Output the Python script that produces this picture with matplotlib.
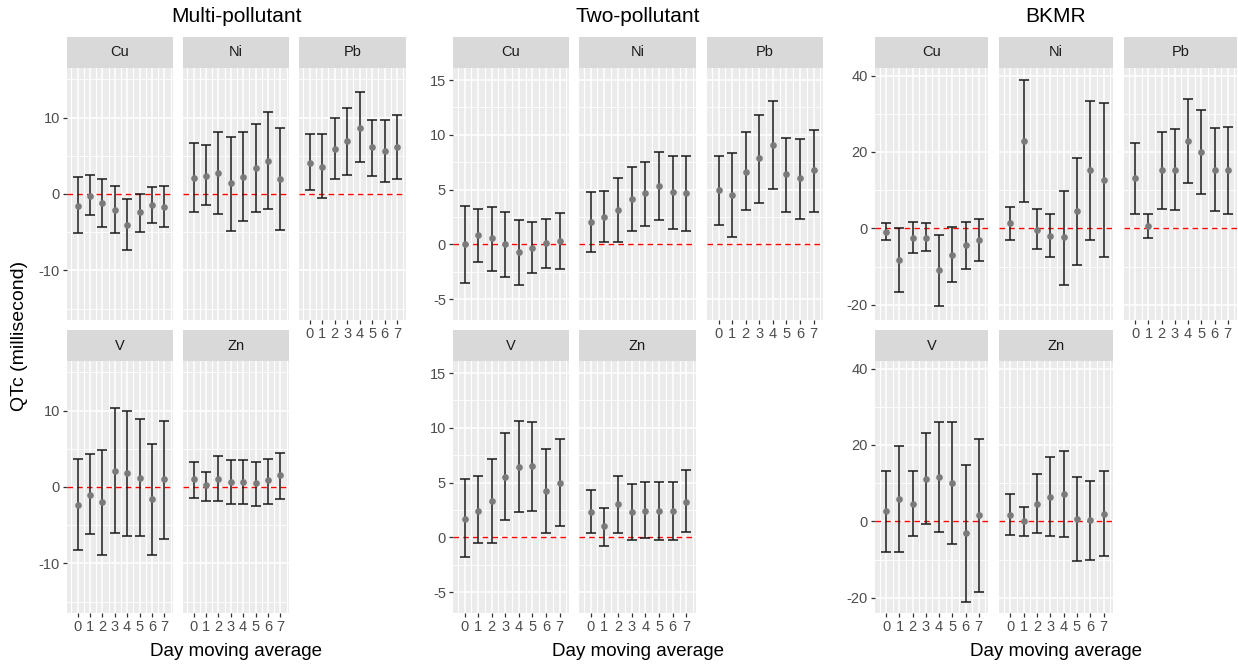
import matplotlib
matplotlib.use("Agg")
import matplotlib.pyplot as plt

plt.rcParams['font.family'] = ['Liberation Sans', 'DejaVu Sans']

days = [0, 1, 2, 3, 4, 5, 6, 7]
metals = ["Cu", "Ni", "Pb", "V", "Zn"]

# Multi-pollutant model: estimate, lower, upper (ms)
multi_est = {
    "Cu": [-1.6, -0.2, -1.2, -2.1, -4.0, -2.4, -1.5, -1.75],
    "Ni": [2.1, 2.4, 2.8, 1.4, 2.2, 3.4, 4.3, 1.9],
    "Pb": [4.1, 3.6, 5.9, 6.9, 8.6, 6.1, 5.6, 6.1],
    "V":  [-2.3, -1.1, -2.0, 2.1, 1.8, 1.2, -1.6, 1.1],
    "Zn": [1.0, 0.2, 1.1, 0.7, 0.7, 0.5, 0.9, 1.6],
}
multi_lo = {
    "Cu": [-5.1, -2.8, -4.3, -5.1, -7.3, -5.0, -3.8, -4.3],
    "Ni": [-2.4, -1.5, -2.6, -4.9, -3.6, -2.3, -1.9, -4.7],
    "Pb": [0.5, -0.5, 1.9, 2.5, 4.2, 2.3, 1.6, 1.9],
    "V":  [-8.2, -6.2, -8.9, -6.0, -6.4, -6.4, -8.9, -6.8],
    "Zn": [-1.4, -1.8, -1.8, -2.2, -2.2, -2.5, -2.2, -1.6],
}
multi_hi = {
    "Cu": [2.2, 2.5, 1.9, 1.05, -0.7, 0.0, 0.9, 1.05],
    "Ni": [6.7, 6.4, 8.1, 7.5, 8.1, 9.2, 10.7, 8.6],
    "Pb": [7.9, 7.8, 9.9, 11.2, 13.4, 9.7, 9.7, 10.4],
    "V":  [3.7, 4.3, 4.9, 10.3, 9.9, 8.9, 5.6, 8.7],
    "Zn": [3.3, 1.9, 4.1, 3.5, 3.5, 3.3, 3.7, 4.5],
}

# Two-pollutant model
two_est = {
    "Cu": [0.0, 0.85, 0.6, 0.0, -0.7, -0.35, 0.15, 0.35],
    "Ni": [2.0, 2.5, 3.1, 4.15, 4.65, 5.35, 4.75, 4.65],
    "Pb": [5.0, 4.5, 6.65, 7.9, 9.05, 6.4, 6.1, 6.75],
    "V":  [1.7, 2.45, 3.3, 5.55, 6.4, 6.55, 4.25, 4.95],
    "Zn": [2.3, 1.0, 3.05, 2.3, 2.45, 2.45, 2.45, 3.25],
}
two_lo = {
    "Cu": [-3.5, -1.65, -2.4, -3.0, -3.7, -2.6, -2.15, -2.25],
    "Ni": [-0.7, 0.25, 0.25, 1.2, 1.65, 2.25, 1.4, 1.2],
    "Pb": [1.8, 0.7, 3.1, 3.8, 5.1, 2.95, 2.35, 2.95],
    "V":  [-1.75, -0.55, -0.55, 1.6, 2.3, 2.45, 0.4, 1.0],
    "Zn": [0.4, -0.8, 0.4, -0.2, -0.1, -0.2, -0.2, 0.5],
}
two_hi = {
    "Cu": [3.5, 3.25, 3.45, 2.95, 2.25, 2.0, 2.35, 2.85],
    "Ni": [4.75, 4.9, 6.1, 7.1, 7.5, 8.45, 8.1, 8.1],
    "Pb": [8.1, 8.35, 10.25, 11.8, 13.05, 9.75, 9.65, 10.45],
    "V":  [5.3, 5.6, 7.2, 9.5, 10.65, 10.5, 8.1, 8.95],
    "Zn": [4.35, 2.65, 5.6, 4.85, 5.05, 5.05, 5.05, 6.15],
}

# BKMR
bkmr_est = {
    "Cu": [-1.0, -8.2, -2.4, -2.4, -11.0, -6.9, -4.45, -3.05],
    "Ni": [1.4, 22.8, -0.35, -2.1, -2.35, 4.45, 15.2, 12.75],
    "Pb": [13.1, 0.7, 15.2, 15.2, 22.8, 20.0, 15.2, 15.2],
    "V":  [2.7, 5.8, 4.45, 11.0, 11.7, 9.95, -3.15, 1.65],
    "Zn": [1.65, 0.0, 4.45, 6.5, 7.2, 0.7, 0.25, 2.0],
}
bkmr_lo = {
    "Cu": [-3.1, -16.6, -6.55, -5.85, -20.3, -14.15, -10.65, -8.55],
    "Ni": [-3.1, 6.9, -5.5, -7.6, -14.85, -9.6, -3.15, -7.6],
    "Pb": [3.85, -2.45, 5.15, 4.8, 11.8, 9.0, 4.45, 3.85],
    "V":  [-7.9, -7.9, -3.85, -0.7, -2.8, -5.95, -21.2, -18.4],
    "Zn": [-3.5, -3.85, -3.15, -3.85, -4.2, -10.4, -10.05, -9.0],
}
bkmr_hi = {
    "Cu": [1.4, 0.0, 1.75, 1.4, -1.75, 0.35, 1.75, 2.45],
    "Ni": [5.5, 38.95, 5.15, 3.85, 9.7, 18.35, 33.45, 32.75],
    "Pb": [22.35, 3.85, 25.25, 25.95, 33.8, 31.0, 26.2, 26.55],
    "V":  [13.1, 19.7, 13.1, 23.1, 25.9, 25.9, 14.8, 21.45],
    "Zn": [7.25, 3.75, 12.4, 16.9, 18.3, 11.7, 10.7, 13.1],
}

W, H = 1238, 665
fig = plt.figure(figsize=(W / 100, H / 100), dpi=100)


def px_axes(x0, y0, x1, y1):
    return fig.add_axes([x0 / W, 1 - y1 / H, (x1 - x0) / W, (y1 - y0) / H])


groups = [
    ("Multi-pollutant", multi_est, multi_lo, multi_hi,
     [(67, 173), (183, 289), (299, 406)], (-16.5, 16.5),
     [-10, 0, 10], [-15, -5, 5, 15]),
    ("Two-pollutant", two_est, two_lo, two_hi,
     [(453, 569), (579, 696), (707, 823)], (-6.9, 16.1),
     [-5, 0, 5, 10, 15], [-2.5, 2.5, 7.5, 12.5]),
    ("BKMR", bkmr_est, bkmr_lo, bkmr_hi,
     [(875, 988), (999, 1113), (1124, 1237)], (-24, 42),
     [-20, 0, 20, 40], [-10, 10, 30]),
]
rows = [(37, 68, 320), (330, 361, 613)]
slots = {"Cu": (0, 0), "Ni": (1, 0), "Pb": (2, 0), "V": (0, 1), "Zn": (1, 1)}

for title, est, lo, hi, cols, ylim, major, minor in groups:
    for m in metals:
        c, r = slots[m]
        x0, x1 = cols[c]
        s0, s1, p1 = rows[r]

        # strip
        st = px_axes(x0, s0, x1, s1)
        st.set_facecolor("#D9D9D9")
        st.set_xticks([])
        st.set_yticks([])
        for sp in st.spines.values():
            sp.set_visible(False)
        st.text(0.5, 0.5, m, ha="center", va="center", fontsize=10.5,
                color="#1A1A1A", transform=st.transAxes)

        ax = px_axes(x0, s1, x1, p1)
        ax.set_facecolor("#EBEBEB")
        for sp in ax.spines.values():
            sp.set_visible(False)
        ax.set_xlim(-0.85, 7.7)
        ax.set_ylim(*ylim)
        for v in major:
            ax.axhline(v, color="white", lw=1.1, zorder=0)
        for v in minor:
            ax.axhline(v, color="white", lw=0.6, zorder=0)
        for d in days:
            ax.axvline(d, color="white", lw=1.1, zorder=0)
            ax.axvline(d - 0.5, color="white", lw=0.8, zorder=0)
        ax.axvline(7.5, color="white", lw=0.8, zorder=0)

        ax.axhline(0, color="red", lw=1.0, ls=(0, (4, 3)), zorder=1)
        e, l, h = est[m], lo[m], hi[m]
        yerr = [[ei - li for ei, li in zip(e, l)], [hi_ - ei for ei, hi_ in zip(e, h)]]
        ax.errorbar(days, e, yerr=yerr, fmt="none", ecolor="#1A1A1A",
                    elinewidth=1.1, capsize=3.6, capthick=1.1, zorder=2)
        ax.plot(days, e, "o", color="#7A7A7A", ms=4.8, mec="none", zorder=3)

        show_x = (m in ("Pb", "V", "Zn"))
        show_y = (c == 0)
        ax.tick_params(axis="both", colors="#333333", labelcolor="#4D4D4D",
                       labelsize=10.5, length=3, width=0.9, pad=2)
        if show_x:
            ax.set_xticks(days)
            ax.set_xticklabels([str(d) for d in days])
        else:
            ax.set_xticks([])
        if show_y:
            ax.set_yticks(major)
            ax.set_yticklabels([str(v) for v in major])
        else:
            ax.set_yticks([])

    gc = (cols[0][0] + cols[2][1]) / 2
    fig.text(gc / W, 1 - 16 / H, title, ha="center", va="center",
             fontsize=15, color="black")
    fig.text(gc / W, 1 - 652 / H, "Day moving average", ha="center",
             va="center", fontsize=13.5, color="black")

fig.text(20 / W, 1 - 336 / H, "QTc (millisecond)", ha="center", va="center",
         rotation=90, fontsize=14, color="black")

fig.savefig("out.png", dpi=100)
